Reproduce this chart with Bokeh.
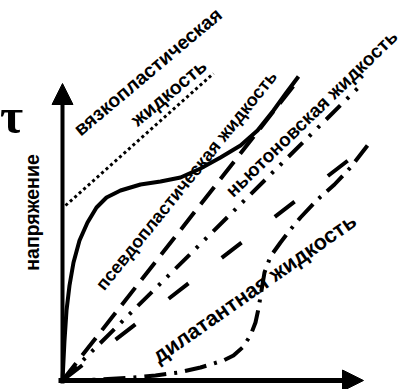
import math
from bokeh.plotting import figure
from bokeh.models import Range1d, Arrow, NormalHead, ColumnDataSource
from bokeh.core.properties import value
from bokeh.embed import file_html
from bokeh.resources import INLINE

# --- data (shear rate vs. shear stress, arbitrary units) ---
pseudo_x = [0, 2, 4, 7, 11, 17, 25, 34, 44, 58, 78, 98, 118, 138, 158, 178, 195, 211, 224, 236]
pseudo_y = [0, 40, 70, 95, 118, 140, 158, 173, 183, 190, 196, 199, 203, 212, 223, 235, 250, 270, 288, 304]

bingham_x = [3, 151]
bingham_y = [175, 307]

newton1_x = [0, 236]
newton1_y = [0, 301]

newton2_x = [0, 301]
newton2_y = [0, 298]

newton3_x = [0, 305]
newton3_y = [0, 235]

dilat_x = [0, 38, 71, 93, 116, 138, 161, 171, 180, 188, 193, 196, 199, 202, 208, 218, 228, 238, 255, 272, 288, 305]
dilat_y = [0, 1, 3, 5, 8, 13, 20, 25, 33, 45, 58, 72, 90, 108, 124, 138, 151, 163, 181, 196, 213, 235]

label_text = ["вязкопластическая", "жидкость", "псевдопластическая жидкость",
              "ньютоновская жидкость", "дилатантная жидкость"]
label_x = [85, 106, 124, 249, 192]
label_y = [309, 288, 200, 267, 92]
label_angle_deg = [40, 40, 51, 44, 35]
label_size = ["19.5px", "19.5px", "18px", "19px", "21.5px"]

axis_x_max = 301
axis_y_max = 297

p = figure(width=405, height=389, output_backend="svg", toolbar_location=None,
           x_range=Range1d(-62, 343), y_range=Range1d(-9, 380),
           min_border=0)
p.axis.visible = False
p.grid.visible = False
p.outline_line_color = None
p.background_fill_color = "white"
p.border_fill_color = "white"

# axes with arrows
p.add_layout(Arrow(x_start=0, y_start=-3, x_end=0, y_end=axis_y_max, line_width=4,
                   line_color="black",
                   end=NormalHead(size=21, fill_color="black", line_color="black", line_width=1)))
p.add_layout(Arrow(x_start=-4, y_start=0, x_end=axis_x_max, y_end=0, line_width=5,
                   line_color="black",
                   end=NormalHead(size=21, fill_color="black", line_color="black", line_width=1)))

# curves
p.line(bingham_x, bingham_y, line_color="black", line_width=3, line_dash="3 3")
p.line(pseudo_x, pseudo_y, line_color="black", line_width=4)
p.line(newton1_x, newton1_y, line_color="black", line_width=4, line_dash="22 10")
p.line(newton2_x, newton2_y, line_color="black", line_width=4, line_dash="20 9 3 9 3 9")
p.line(newton3_x, newton3_y, line_color="black", line_width=4, line_dash="25 42")
p.line(dilat_x, dilat_y, line_color="black", line_width=4, line_dash="22 8 3 8")

# labels
src = ColumnDataSource(dict(x=label_x, y=label_y, text=label_text, size=label_size,
                            angle=[math.radians(a) for a in label_angle_deg]))
p.text(x="x", y="y", text="text", angle="angle", source=src,
       text_font=value("Liberation Sans"), text_font_style="bold",
       text_font_size="size", text_align="center", text_baseline="middle",
       text_color="black")

p.text(x=[-31], y=[168], text=["напряжение"], angle=math.pi / 2,
       text_font=value("Liberation Sans"), text_font_style="bold",
       text_font_size="19.5px", text_align="center", text_baseline="middle",
       text_color="black")

p.text(x=[-51], y=[265], text=["τ"],
       text_font=value("Liberation Serif"), text_font_style="bold",
       text_font_size="50px", text_align="center", text_baseline="middle",
       text_color="black")

open("out.html", "w").write(file_html(p, INLINE))
